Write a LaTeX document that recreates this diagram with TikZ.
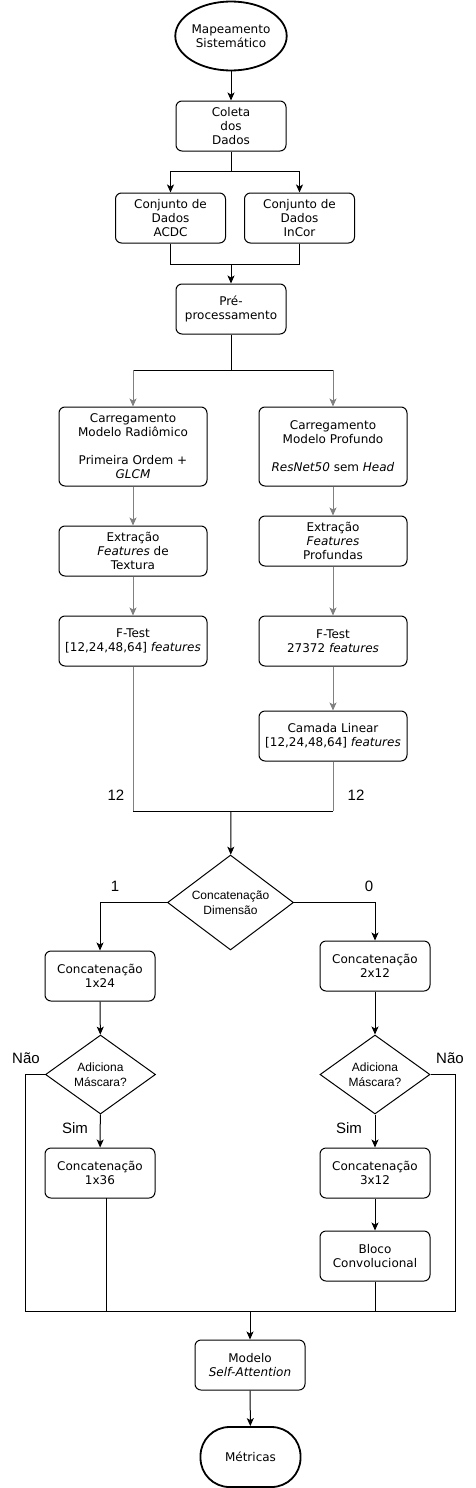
\documentclass[tikz,border=0pt]{standalone}
\usepackage{fontspec}
\setmainfont{DejaVu Sans}
\newfontfamily\lblfont{Liberation Sans}
\usetikzlibrary{arrows.meta,shapes.geometric}
\definecolor{lineGray}{HTML}{808080}
\tikzset{
  procbox/.style={draw, rectangle, rounded corners=6pt, line width=1pt,
    minimum width=110pt, minimum height=50pt, inner sep=2pt, align=center,
    font=\fontsize{12}{14}\selectfont},
  widebox/.style={procbox, minimum width=148pt},
  startnode/.style={draw, ellipse, line width=1.8pt, minimum width=110pt,
    minimum height=69pt, inner sep=0pt, align=center,
    font=\fontsize{12}{14}\selectfont},
  endnode/.style={draw, rectangle, rounded corners=29pt, line width=1.8pt,
    minimum width=100pt, minimum height=60pt, align=center,
    font=\fontsize{12}{14}\selectfont},
  decide/.style={draw, diamond, line width=1pt, inner sep=0pt, aspect=1.35,
    align=center, font=\lblfont\fontsize{12}{15}\selectfont},
  lbl/.style={font=\lblfont\fontsize{15}{17}\selectfont, inner sep=0pt},
  arr/.style={-{Stealth[length=8pt,width=7pt,inset=2pt]}, line width=1pt},
  link/.style={line width=1pt}
}
\begin{document}
\begin{tikzpicture}[x=1pt, y=-1pt]
        \useasboundingbox (0,0) rectangle (475,1488);
        % Start and data collection
        \node[startnode] (map) at (231,36) {Mapeamento\\Sistemático};
        \node[procbox] (collect) at (231,126) {Coleta\\dos\\Dados};
        \node[procbox] (acdc) at (170.5,218) {Conjunto de\\Dados\\ACDC};
        \node[procbox] (incor) at (299.5,218) {Conjunto de\\Dados\\InCor};
        \node[procbox] (prep) at (231,309) {Pré-\\processamento};
        \coordinate (split1) at (231,171);
        \coordinate (join1) at (231,264);
        \coordinate (split2) at (231,370);
        \draw[arr] (map) -- (collect);
        \draw[link] (collect) -- (split1);
        \draw[arr] (split1) -| (acdc.north);
        \draw[arr] (split1) -| (incor.north);
        \draw[link] (acdc.south) |- (join1);
        \draw[link] (incor.south) |- (join1);
        \draw[arr] (join1) -- (prep);

        % Radiomic branch
        \node[widebox, minimum height=79pt] (radio) at (133,446.5) {Carregamento\\Modelo Radiômico\\[14pt]Primeira Ordem +\\\textit{GLCM}};
        \node[widebox] (texture) at (133,551) {Extração\\\textit{Features} de\\Textura};
        \node[widebox] (ftestL) at (133,641) {F-Test\\{[12,24,48,64]} \textit{features}};
        % Deep branch
        \node[widebox, minimum height=79pt] (deep) at (333,446.5) {Carregamento\\Modelo Profundo\\[14pt]\textit{ResNet50} sem \textit{Head}};
        \node[widebox] (deepfeat) at (333,541) {Extração\\\textit{Features}\\Profundas};
        \node[widebox] (ftestR) at (333,641) {F-Test\\27372 \textit{features}};
        \node[widebox] (linear) at (333,736) {Camada Linear\\{[12,24,48,64]} \textit{features}};
        \draw[link] (prep) -- (split2);
        \draw[link] (radio.north |- split2) -- (deep.north |- split2);
        \draw[arr, lineGray] (radio.north |- split2) -- (radio);
        \draw[arr, lineGray] (deep.north |- split2) -- (deep);
        \draw[arr, lineGray] (radio) -- (texture);
        \draw[arr, lineGray] (texture) -- (ftestL);
        \draw[arr, lineGray] (deep) -- (deepfeat);
        \draw[arr, lineGray] (deepfeat) -- (ftestR);
        \draw[arr, lineGray] (ftestR) -- (linear);

        % Fusion
        \coordinate (join2) at (231,811);
        \node[lbl] (sizeL) at (116,795) {12};
        \node[lbl] (sizeR) at (356,795) {12};
        \draw[link, lineGray] (ftestL.south) -- (ftestL.south |- join2);
        \draw[link, lineGray] (linear.south) -- (linear.south |- join2);
        \draw[link] (ftestL.south |- join2) -- (linear.south |- join2);
        \node[decide, minimum width=126pt, minimum height=95pt] (dim) at (230.5,902.5) {Concatenação\\Dimensão};
        \draw[arr] (join2) -- (dim);

        % Dimension 1
        \node[lbl] (dimOne) at (115,886) {1};
        \node[procbox] (cat1) at (100,976) {Concatenação\\1x24};
        \node[decide, minimum width=110pt, minimum height=79pt] (mask1) at (100.5,1074.5) {Adiciona\\Máscara?};
        \node[procbox] (cat3) at (100,1173) {Concatenação\\1x36};
        \node[lbl] (noL) at (26,1058) {Não};
        \node[lbl] (yesL) at (75,1128) {Sim};
        \draw[arr] (dim.west) -| (cat1.north);
        \draw[arr] (cat1) -- (mask1);
        \draw[arr] (mask1) -- (cat3);

        % Dimension 0
        \node[lbl] (dimZero) at (369,886) {0};
        \node[procbox] (cat2) at (375,966) {Concatenação\\2x12};
        \node[decide, minimum width=110pt, minimum height=79pt] (mask2) at (375,1074.5) {Adiciona\\Máscara?};
        \node[procbox] (cat4) at (375,1173) {Concatenação\\3x12};
        \node[procbox] (conv) at (375,1256) {Bloco\\Convolucional};
        \node[lbl] (noR) at (450,1058) {Não};
        \node[lbl] (yesR) at (349,1128) {Sim};
        \draw[arr] (dim.east) -| (cat2.north);
        \draw[arr] (cat2) -- (mask2);
        \draw[arr] (mask2) -- (cat4);
        \draw[arr] (cat4) -- (conv);

        % Model and metrics
        \coordinate (busL) at (25,1311);
        \coordinate (busR) at (455,1311);
        \coordinate (busM) at (250,1311);
        \coordinate (cat3out) at (106,1198);
        \draw[link] (mask1.west) -| (busL) -- (busR) |- (mask2.east);
        \draw[link] (cat3out) -- (cat3out |- busM);
        \draw[link] (conv.south) -- (conv.south |- busM);
        \node[procbox] (model) at (250,1365) {Modelo\\\textit{Self-Attention}};
        \node[endnode] (metric) at (250.5,1457) {Métricas};
        \draw[arr] (busM) -- (model);
        \draw[arr] (model) -- (metric);
\end{tikzpicture}
\end{document}
